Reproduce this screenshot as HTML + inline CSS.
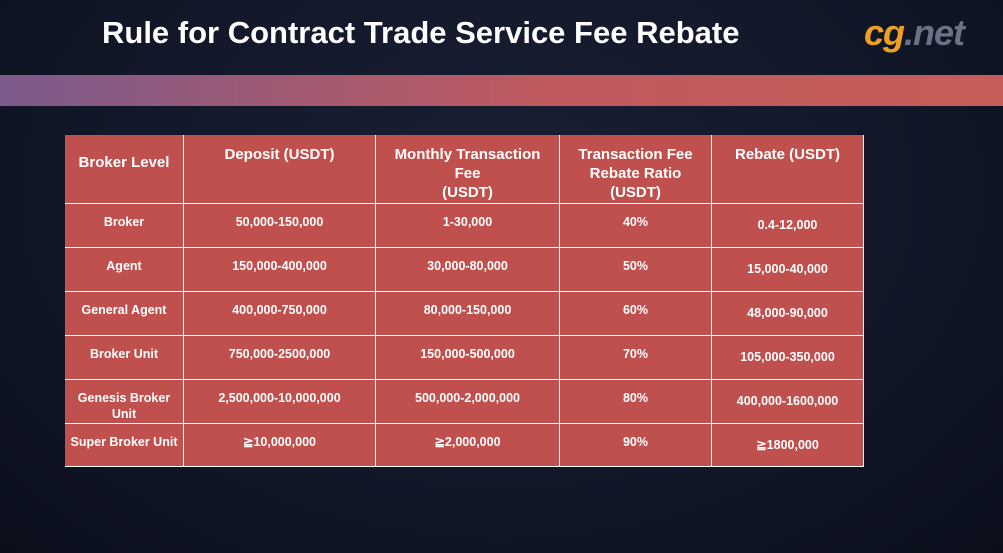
<!DOCTYPE html>
<html><head><meta charset="utf-8"><style>
body{margin:0;width:1003px;height:553px;overflow:hidden;background:radial-gradient(ellipse at 50% 35%,#1a2034 0%,#121829 55%,#0b0f1c 100%);font-family:"Liberation Sans",Arial,sans-serif;position:relative}
.title{position:absolute;left:102px;top:15px;font-size:31px;font-weight:bold;color:#fff}
.band{position:absolute;left:0;top:75px;width:1003px;height:31px;background:linear-gradient(90deg,#7b5a8c 0%,#a25a72 30%,#c05a5f 55%,#c85c58 100%)}
.logo{position:absolute;left:864px;top:12px;font-size:36px;font-style:italic;font-weight:bold;letter-spacing:-1px}
.logo .cg{color:#f0a020}.logo .net{color:#6a7384}
.c{position:absolute;background:#c0504d;color:#fff;font-weight:bold;font-size:12.5px;text-align:center;box-sizing:border-box;border-right:1px solid #fff;border-bottom:1px solid #fff;line-height:16px}
.h{font-size:15px;line-height:19px;padding-top:10px}
</style></head><body>
<div class="title">Rule for Contract Trade Service Fee Rebate</div>
<div class="logo"><span class="cg">cg</span><span class="net">.net</span></div>
<div class="band"></div>
<div id="t"></div>
<script>
const xs=[65,184,376,560,712,864];
const ys=[135,204,248,292,336,380,424,467];
const rows=[
["Broker Level","Deposit (USDT)","Monthly Transaction<br>Fee<br>(USDT)","Transaction Fee Rebate Ratio<br>(USDT)","Rebate (USDT)"],
["Broker","50,000-150,000","1-30,000","40%","0.4-12,000"],
["Agent","150,000-400,000","30,000-80,000","50%","15,000-40,000"],
["General Agent","400,000-750,000","80,000-150,000","60%","48,000-90,000"],
["Broker Unit","750,000-2500,000","150,000-500,000","70%","105,000-350,000"],
["Genesis Broker Unit","2,500,000-10,000,000","500,000-2,000,000","80%","400,000-1600,000"],
["Super Broker Unit","≧10,000,000","≧2,000,000","90%","≧1800,000"]];
const t=document.getElementById('t');
rows.forEach((r,i)=>r.forEach((v,j)=>{
 const d=document.createElement('div');
 d.className='c'+(i==0?' h':'');
 
 
 d.style.left=xs[j]+'px';d.style.top=ys[i]+'px';
 d.style.width=(xs[j+1]-xs[j])+'px';d.style.height=(ys[i+1]-ys[i])+'px';
 if(i==0&&j==0){d.style.paddingTop='18px';}
 if(i>0){d.style.padding=(j==4?'13px':'10px')+' 2px 0';}
 d.innerHTML=v;t.appendChild(d);
}));
</script>
</body></html>
